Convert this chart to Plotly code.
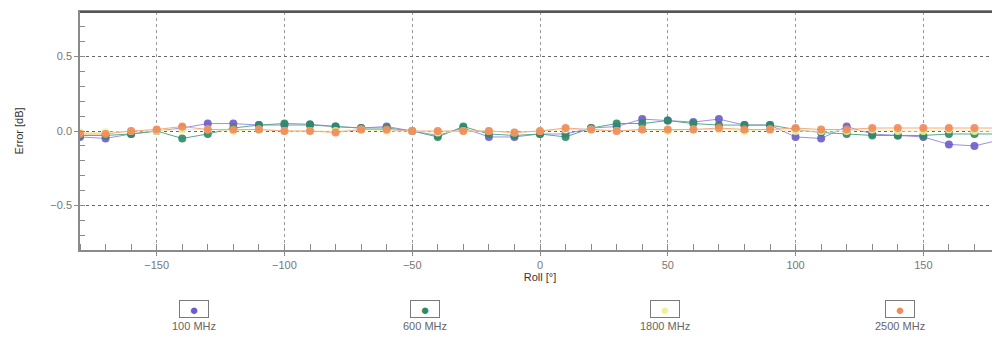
import plotly.graph_objects as go

roll = list(range(-180, 181, 10))

err_100 = [-0.04, -0.05, -0.02, 0.0, 0.02, 0.05, 0.05, 0.04, 0.04, 0.04, 0.03, 0.02, 0.03,
           0.0, -0.03, 0.02, -0.04, -0.04, -0.02, -0.02, 0.02, 0.03, 0.08, 0.07, 0.06,
           0.08, 0.04, 0.04, -0.04, -0.05, 0.03, -0.02, -0.03, -0.04, -0.09, -0.10, -0.06]
err_600 = [-0.03, -0.03, -0.02, 0.0, -0.05, -0.02, 0.02, 0.04, 0.05, 0.045, 0.03, 0.02, 0.02,
           0.0, -0.04, 0.03, -0.02, -0.03, -0.02, -0.04, 0.02, 0.05, 0.05, 0.07, 0.05,
           0.04, 0.04, 0.04, 0.01, -0.01, -0.02, -0.03, -0.03, -0.03, -0.02, -0.02, -0.02]
err_1800 = [-0.01, -0.01, 0.0, 0.0, 0.01, 0.01, 0.0, 0.01, 0.0, 0.0, 0.0, 0.01, 0.0,
            0.0, -0.01, 0.0, 0.0, -0.01, 0.0, 0.01, 0.01, 0.0, 0.01, 0.0, 0.01,
            0.01, 0.0, 0.01, 0.0, 0.0, 0.0, 0.01, 0.0, 0.0, 0.01, 0.0, 0.0]
err_2500 = [-0.02, -0.02, 0.0, 0.01, 0.03, 0.01, 0.01, 0.01, 0.0, 0.0, -0.01, 0.01, 0.01,
            0.0, 0.0, 0.0, 0.0, -0.01, 0.0, 0.02, 0.01, 0.0, 0.01, 0.01, 0.01,
            0.02, 0.01, 0.01, 0.02, 0.01, 0.01, 0.02, 0.02, 0.02, 0.02, 0.02, 0.02]

series_names = ["100 MHz", "600 MHz", "1800 MHz", "2500 MHz"]
series_vals = [err_100, err_600, err_1800, err_2500]
marker_colors = ["#6b5cc9", "#2b8a66", "#eef09a", "#f08a5a"]
line_colors = ["#9c92e6", "#5aa98c", "#eef0b0", "#f5a980"]
legend_px = [194, 425, 665, 900]

fig = go.Figure()
for name, vals, mc, lc in zip(series_names, series_vals, marker_colors, line_colors):
    fig.add_trace(go.Scatter(
        x=roll, y=vals, name=name, mode="lines+markers",
        line=dict(color=lc, width=1),
        marker=dict(color=mc, size=8, opacity=0.9, line=dict(width=0)),
        showlegend=False,
    ))

# page body has an 8px default margin: compensate so the plot area sits at
# window x 80..1000, y 12..250
OFF = 8
L, R, T, B = 80, 1000, 12, 250
W, H = 1000 - OFF, 340 - OFF
def px_x(p):
    return (p - L) / (R - L)
def px_y(p):
    return (B - p) / (B - T)

annotations = []
for name, mc, cx in zip(series_names, marker_colors, legend_px):
    annotations.append(dict(
        xref="paper", yref="paper", x=px_x(cx), y=px_y(309),
        text="●", showarrow=False, font=dict(size=15, color=mc),
        bordercolor="#7a7a7a", borderwidth=1, bgcolor="white",
        width=28, height=16, xanchor="center", yanchor="middle", borderpad=0,
    ))
    annotations.append(dict(
        xref="paper", yref="paper", x=px_x(cx), y=px_y(326),
        text=name, showarrow=False, font=dict(size=11, color="#666666",
                                               family="Liberation Sans, Arial"),
        xanchor="center", yanchor="middle",
    ))

fig.update_layout(
    width=W, height=H,
    margin=dict(l=L - OFF, r=0, t=T - OFF, b=340 - B),
    paper_bgcolor="white", plot_bgcolor="white",
    font=dict(family="Liberation Sans, Arial", size=11, color="#777777"),
    annotations=annotations,
    xaxis=dict(
        range=[-180, 180], dtick=50, tick0=0,
        showgrid=True, gridcolor="#9a9a9a", griddash="dot", gridwidth=1,
        zeroline=False,
        showline=True, linecolor="#8a8a8a", linewidth=1.5, mirror=True,
        ticks="outside", ticklen=4, tickcolor="#8a8a8a",
        minor=dict(dtick=10, ticks="inside", ticklen=6, tickcolor="#8a8a8a", showgrid=False),
        tickfont=dict(size=11, color="#777777"),
        title=dict(text="Roll [°]", font=dict(size=11, color="#333333"), standoff=2),
    ),
    yaxis=dict(
        range=[-0.8, 0.8], dtick=0.5, tick0=0, tickformat=".1f",
        showgrid=True, gridcolor="#666666", griddash="dot", gridwidth=1,
        zeroline=False,
        showline=True, linecolor="#8a8a8a", linewidth=1.5, mirror=False,
        ticks="outside", ticklen=4, tickcolor="#8a8a8a",
        minor=dict(dtick=0.1, ticks="inside", ticklen=5, tickcolor="#8a8a8a", showgrid=False),
        tickfont=dict(size=11, color="#777777"),
        title=dict(text="Error [dB]", font=dict(size=11, color="#333333"), standoff=24),
    ),
)
fig.add_shape(type="line", xref="paper", yref="paper", x0=0, x1=1, y0=1, y1=1,
              line=dict(color="#555555", width=2))

fig.write_html("out.html")
